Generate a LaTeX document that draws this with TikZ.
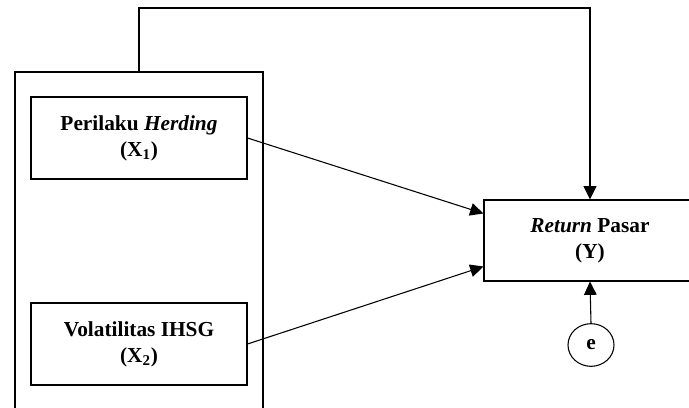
\documentclass[tikz,border=0pt]{standalone}
\usepackage{fontspec}
\setmainfont{Liberation Serif}
\usetikzlibrary{arrows.meta,shapes.geometric,calc}

\begin{document}
\begin{tikzpicture}[x=0.75pt,y=-0.75pt,
  var/.style={draw,line width=0.8pt,inner sep=0pt,align=center,
    font=\bfseries\fontsize{16}{19.5}\selectfont},
  tip/.style={-{Triangle[length=10pt,width=9.5pt]}}]
\path[use as bounding box](0,0) rectangle (689,407);
\clip (0,0) rectangle (689,407);
% kotak pengelompok X1 dan X2
\node (grp) at (139,256) [draw,line width=1.8pt,minimum width=186pt,minimum height=276pt]{};
\node (x1) at (139,138) [var,minimum width=162pt,minimum height=61.5pt]{Perilaku \textit{Herding}\\(X\textsubscript{1})};
\node (x2) at (139,344) [var,minimum width=162pt,minimum height=61.5pt]{Volatilitas IHSG\\(X\textsubscript{2})};
\node (ret) at (590,240.5) [var,minimum width=159pt,minimum height=60.75pt]{\textit{Return} Pasar\\(Y)};
\node (e) at (591,345) [draw,ellipse,line width=0.8pt,minimum width=34.5pt,minimum height=32pt,inner sep=0pt,font=\bfseries\fontsize{16}{19.5}\selectfont]{e};
% panah
\draw[line width=0.8pt,tip](x1.east)--($(ret.west)+(0,-27)$);
\draw[line width=0.8pt,tip](x2.east)--($(ret.west)+(0,26)$);
\draw[line width=1.5pt,tip](grp.north)--++(0,-63)-|(ret.north);
\draw[line width=0.8pt,tip](e.north)--(ret.south);
\end{tikzpicture}
\end{document}
